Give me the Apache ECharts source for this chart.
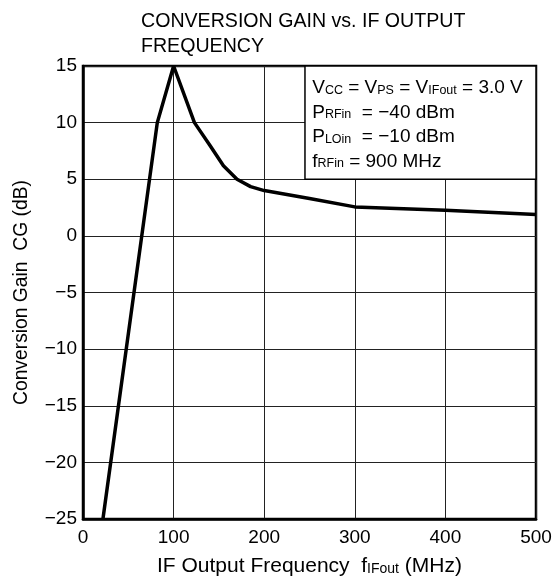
<!DOCTYPE html>
<html>
<head>
<meta charset="utf-8">
<script src="https://cdn.jsdelivr.net/npm/echarts@6/dist/echarts.min.js"></script>
<style>html,body{margin:0;padding:0;background:#fff}#c{width:556px;height:582px}</style>
</head>
<body>
<div id="c"></div>
<script>
const freqMHz = [22, 82, 100, 123, 140, 155, 170, 185, 200, 250, 300, 400, 500];
const gainDb  = [-25, 10, 15, 10, 8, 6.2, 5, 4.35, 4.0, 3.3, 2.56, 2.27, 1.89];
const xTicks = [0, 100, 200, 300, 400, 500];
const yTicks = [-25, -20, -15, -10, -5, 0, 5, 10, 15];
const boxFrom = [245, 15];
const boxTo = [500, 5];
const titleText = 'CONVERSION GAIN vs. IF OUTPUT\nFREQUENCY';
const conditionLines = [
  'V{s|CC} = V{s|PS} = V{s|IFout} = 3.0 V',
  'P{s|RFin}  = \u221240 dBm',
  'P{s|LOin}  = \u221210 dBm',
  'f{s|RFin} = 900 MHz'
];

const FONT = "'Liberation Sans', Arial, sans-serif";
const FS = 19;
function makeRich(main, sub) {
  return {
    n: {fontSize: main, fontFamily: FONT, color: '#000', verticalAlign: 'bottom'},
    s: {fontSize: sub, fontFamily: FONT, color: '#000', verticalAlign: 'bottom', padding: [0, 0, 1, 0]}
  };
}
function wrapRich(str) {
  return str.split('\n').map(line => {
    const parts = line.split(/(\{s\|[^}]*\})/);
    return parts.filter(p => p.length).map(p => p.startsWith('{s|') ? p : '{n|' + p + '}').join('');
  }).join('\n');
}

const chart = echarts.init(document.getElementById('c'), null, {renderer: 'canvas'});
chart.setOption({
  animation: false,
  backgroundColor: '#fff',
  title: {
    text: titleText,
    left: 136, top: 4,
    textStyle: {fontSize: 19.6, fontWeight: 'normal', fontFamily: FONT, color: '#000', lineHeight: 25}
  },
  grid: {left: 83, right: 20, top: 66, bottom: 60, show: true, borderColor: '#000', borderWidth: 2.5, backgroundColor: 'transparent'},
  xAxis: {
    type: 'value', min: xTicks[0], max: xTicks[xTicks.length - 1], interval: 100,
    name: wrapRich('IF Output Frequency  f{s|IFout} (MHz)'),
    nameLocation: 'middle', nameGap: 37,
    nameTextStyle: {rich: makeRich(21, 14)},
    axisLine: {show: true, onZero: false, lineStyle: {color: '#000', width: 2.5}},
    axisTick: {show: false},
    splitLine: {show: true, lineStyle: {color: '#222', width: 1}},
    axisLabel: {fontSize: FS, fontFamily: FONT, color: '#000', margin: 9}
  },
  yAxis: {
    type: 'value', min: yTicks[0], max: yTicks[yTicks.length - 1], interval: 5,
    name: wrapRich('Conversion Gain  CG (dB)'),
    nameLocation: 'middle', nameGap: 52, nameRotate: 90,
    nameTextStyle: {rich: makeRich(19.3, 13)},
    axisLine: {show: true, onZero: false, lineStyle: {color: '#000', width: 2.5}},
    axisTick: {show: false},
    splitLine: {show: true, lineStyle: {color: '#222', width: 1}},
    axisLabel: {fontSize: FS, fontFamily: FONT, color: '#000', margin: 6,
      formatter: v => String(v).replace('-', '\u2212')}
  },
  series: [{
    type: 'line',
    data: freqMHz.map((f, i) => [f, gainDb[i]]),
    showSymbol: false,
    lineStyle: {color: '#000', width: 3.5},
    z: 5,
    markArea: {
      silent: true,
      itemStyle: {color: '#fff', borderColor: '#000', borderWidth: 1.5},
      label: {
        show: true, position: 'insideTopLeft', distance: 0,
        padding: [8, 0, 0, 8],
        lineHeight: 24.5,
        formatter: wrapRich(conditionLines.join('\n')),
        rich: makeRich(FS, 12.5)
      },
      data: [[{coord: boxFrom}, {coord: boxTo}]]
    }
  }]
});
</script>
</body>
</html>
